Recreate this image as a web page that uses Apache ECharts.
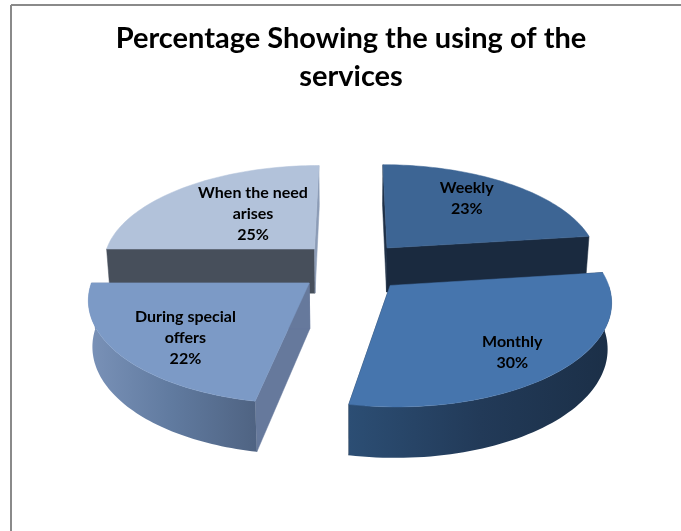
<!DOCTYPE html>
<html>
<head>
<meta charset="utf-8">
<style>html,body{margin:0;padding:0;background:#fff}#c{width:681px;height:531px}</style>
<script src="https://cdn.jsdelivr.net/npm/echarts@6/dist/echarts.min.js"></script>
</head>
<body>
<div id="c"></div>
<script>
const categories = ['Weekly', 'Monthly', 'During special\noffers', 'When the need\narises'];
const percentages = [23, 30, 22, 25];
const titleLines = 'Percentage Showing the using of the\nservices';

// Projection of the exploded 3D pie (style/layout only, not data)
const VIEW = { cx: 352, cy: 266.5, A: 213, B: 99.3, k: 0.136, kz: 0.015, explode: 0.255, height: 45.6 };
const topColors = ['#3d6594', '#4675ad', '#7c9ac6', '#b2c2da'];
const startFace = ['#1f3047', '#1b2f47', '#66799c', '#474f5b'];
const endFace = ['#1a2a3f', '#1b2f47', '#66799c', '#8c9cb6'];
const wallStops = [
  ['#1f3047', '#1a2a3f'],
  ['#2c4e74', '#223a58', '#1b2f47'],
  ['#7a92b8', '#607a9f', '#4f6382'],
  ['#474f5b', '#474f5b']
];
const labelNudge = [[4, -10], [24, 18], [-15, 13], [20, 3]];
const paintOrder = [3, 0, 2, 1];

const total = percentages.reduce((a, b) => a + b, 0);

function project(X, Y, z) {
  const d = 1 - VIEW.k * Y + VIEW.kz * z;
  return [VIEW.cx + X * VIEW.A / d, VIEW.cy + (Y * VIEW.B + z * VIEW.height) / d];
}
function disk(t, r) { return [r * Math.sin(t), -r * Math.cos(t)]; }

function sliceAngles(i) {
  let acc = 0;
  for (let j = 0; j < i; j++) acc += percentages[j];
  return [acc / total * 2 * Math.PI, (acc + percentages[i]) / total * 2 * Math.PI];
}

function renderItem(params, api) {
  const i = api.value(0);
  const [a0, a1] = sliceAngles(i);
  const mid = (a0 + a1) / 2;
  const [ox, oy] = disk(mid, VIEW.explode);
  const pt = (t, r, z) => { const p = disk(t, r); return project(ox + p[0], oy + p[1], z); };
  const base = paintOrder.indexOf(i) * 10;
  const children = [];
  const poly = (points, fill, z2, stroke) => children.push({
    type: 'polygon', z2: base + z2, shape: { points },
    style: { fill, stroke: stroke || fill, lineWidth: stroke ? 1 : 0.5 }
  });
  const steps = 64;
  const arc = (from, to, z) => {
    const out = [];
    for (let s = 0; s <= steps; s++) out.push(pt(from + (to - from) * s / steps, 1, z));
    return out;
  };
  // radial faces
  const face = (t) => [pt(t, 0, 0), pt(t, 1, 0), pt(t, 1, 1), pt(t, 0, 1)];
  poly(face(a0), startFace[i], 1);
  poly(face(a1), endFace[i], 1);
  // outer wall: only the part that faces the viewer
  const w0 = Math.max(a0, Math.PI / 2), w1 = Math.min(a1, 3 * Math.PI / 2);
  if (w1 > w0) {
    const stops = wallStops[i];
    const wall = arc(w0, w1, 0).concat(arc(w0, w1, 1).reverse());
    const colorStops = stops.map((c, n) => ({ offset: n / (stops.length - 1), color: c }));
    poly(wall, { type: 'linear', x: 0, y: 0, x2: 1, y2: 0, colorStops }, 2, 'rgba(0,0,0,0)');
  }
  // top face
  poly([pt(a0, 0, 0)].concat(arc(a0, a1, 0)), topColors[i], 3);
  // label
  const lp = pt(mid, 0.6, 0);
  children.push({
    type: 'text', z2: 100,
    x: lp[0] + labelNudge[i][0], y: lp[1] + labelNudge[i][1],
    style: {
      text: categories[i] + '\n' + Math.round(percentages[i] / total * 100) + '%',
      fill: '#000', font: 'bold 16px Lato', align: 'center', verticalAlign: 'middle', lineHeight: 21
    }
  });
  return { type: 'group', children };
}

const chart = echarts.init(document.getElementById('c'), null, { renderer: 'canvas' });
chart.setOption({
  animation: false,
  backgroundColor: '#fff',
  title: {
    text: titleLines, left: 346, top: 15, textAlign: 'center',
    textStyle: { fontFamily: 'Lato', fontWeight: 'bold', fontSize: 29, lineHeight: 38, color: '#000' }
  },
  graphic: [
    { type: 'line', shape: { x1: 11, y1: 5, x2: 681, y2: 5 }, style: { stroke: '#8a8a8a', lineWidth: 2 } },
    { type: 'line', shape: { x1: 11, y1: 5, x2: 11, y2: 531 }, style: { stroke: '#8a8a8a', lineWidth: 2 } }
  ],
  series: [{
    type: 'custom',
    coordinateSystem: 'none',
    renderItem,
    data: percentages.map((v, i) => [i, v])
  }]
});
</script>
</body>
</html>
